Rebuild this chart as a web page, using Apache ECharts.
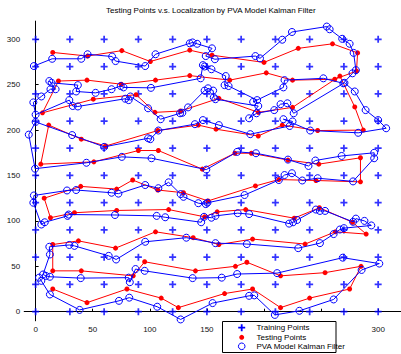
<!DOCTYPE html>
<html><head><meta charset="utf-8">
<script src="https://cdn.jsdelivr.net/npm/echarts@6/dist/echarts.min.js"></script>
<style>html,body{margin:0;padding:0;background:#fff}#c{width:401px;height:354px}</style>
</head><body><div id="c"></div>
<script>
const titleText = 'Testing Points v.s. Localization by PVA Model Kalman Filter';
const legendNames = ['Training Points', 'Testing Points', 'PVA Model Kalman Filter'];
const tickValues = [0, 50, 100, 150, 200, 250, 300];
const xLabelValues = [0, 50, 100, 150, 300];   // 200 and 250 are hidden behind the legend
const yLabelValues = [0, 50, 100, 150, 200, 250, 300];

const trainX = [0, 30, 60, 90, 120, 150, 180, 210, 240, 270, 300];
const trainY = [0, 30, 60, 90, 120, 150, 180, 210, 240, 270, 300];

const testX = [15,45,80,110,125,165.5,190,214.5,240,275,285,253.5,214.5,185,175,140,95.5,85.5,40,15,15,37.5,70,105,138,160.5,190,236,262.5,289.5,277.5,248.5,226.5,184,159,148,116.5,71,34,13,7.5,39.5,71,85,107,129.5,151,192.5,213,245.5,284.5,284.5,248,221,189,174.5,146,107.5,90,51,4.5,11.5,40,61.5,107,142.5,158,195,216,247,287,279.5,266.5,225,195,160.5,127,104.5,88,50.5,6,20,45,75,105,135,170,202,225,262,281,282,260,230,200,154.5,135,100.5,75.5,45.5,15];
const testY = [25,10,25,15,4.5,20,25,4.5,15,25,50,43,39.5,54.5,50,45,55,39.5,45,45,74,78,70,88,81.5,74,80,74.5,88,85.5,98.5,114.5,103,112.5,110,104.5,112.5,111.5,109,103.5,125,138,135,145,134,131,122,138.5,145.5,144.5,143,169.5,162.5,167,174.5,174.5,157,177.5,177.5,165,162.5,205.5,190,182.5,199.5,205.5,201,193.5,205.5,199.5,200,225.5,259.5,225,219.5,235,221,219.5,239,234,219,254,255,250.5,255,260,255,263,255,256,265,285,295,290,274.5,282.5,288,275.5,287.5,281.5,285.5];

const kalX = [3,5,12.5,38.5,73,82,106.5,127,155,187,191.5,209.5,231,261,285.5,301,269,211.5,176.5,163,137.5,95.5,87.5,82.5,81.5,39.5,12.5,9,6.5,12.5,12,29.5,34,64,70.5,96,132,157.5,185,230,249,261,266.5,270,294,288,280.5,278,253.5,249,245.5,229,225.5,222,187,177,157.5,154,147.5,145,113.5,106,69.5,29,28,8,5,-2,-1.5,27.5,35.5,66.5,72.5,96,107.5,116.5,127,129.5,142.5,149,150.5,183,213,218,224.5,233.5,247,278,296.5,296.5,268,245,239,221,193,176.5,149.5,101.5,75.5,44.5,-0.5,-6,0,32,60,98.5,100.5,107.5,139.5,146.5,160.5,188,222.5,225,217,240.5,282.5,307,300,289,279.5,270.5,226,220.5,214.5,209,193.5,187,195,157.5,156,155.5,151,148,133.5,128.5,126.5,109.5,98.5,83,81.5,78.5,37,32.5,29.5,0,-2,5,13,17.5,12,14,37,35.5,52.5,66.5,74.5,77,101,144.5,146.5,148,154,166.5,165.5,169,194,190.5,217,218,252,269.5,277.5,280.5,278.5,275,268.5,257.5,255,224.5,216,196.5,192.5,157,149,154.5,141.5,137.5,135,105,96,70,67,45.5,40,14.5,-1.5];
const kalY = [37.5,34,19,2,12,15.5,5.5,-8.5,9.5,17.5,18,-3.5,1,13.5,46,53,59.5,42.5,41.5,37.5,37,45,47,32.5,37.5,37,38.5,39.5,41,63,71.5,73.5,72.5,61.5,57.5,77,81.5,75.5,74.5,70,75.5,85.5,90.5,92,95,100,102.5,99,111,111,112.5,101,98.5,97,107.5,108.5,105.5,103.5,104.5,98.5,104,105.5,106.5,107,105.5,98.5,96,120,128,133.5,134,131,130,139.5,136,142.5,129.5,126.5,119.5,118.5,120,128.5,145,150.5,152.5,144.5,147,143.5,169,175,171.5,166.5,160.5,167.5,174.5,176,156.5,169,170.5,164,157.5,195,209,194.5,181.5,191,190,199.5,206.5,211,205.5,195.5,204.5,209.5,212,199.5,197,202,211,222,242.5,252,218.5,229.5,228.5,222,218.5,213,226.5,234,236,243.5,246,243.5,225,219,218.5,212,224,237,233,234.5,226,226.5,233,217,230.5,237,245,245,254,252,249.5,242.5,241,245,248.5,247,246.5,257,271.5,270,267,259.5,249.5,248.5,233,231,247,255,257,251.5,262.5,266,285,295,300.5,311,314,308,299.5,279,281.5,278,281.5,290,295,296.5,295.5,283.5,270.5,276,281,283.5,278.5,278.5,270.5];

const BLUE = '#0000ff', RED = '#ff0000', FONT = 'Liberation Sans, Arial, Helvetica, sans-serif';
const plusPath = 'path://M3,0H5V3H8V5H5V8H3V5H0V3H3Z';

const trainData = [];
trainY.forEach(y => trainX.forEach(x => trainData.push([x, y])));
const testData = testX.map((x, i) => [x, testY[i]]);
const kalData = kalX.map((x, i) => [x, kalY[i]]);

function makeAxis(labelValues, margin) {
  return {
    type: 'value', min: -10, max: 320,
    axisLine: {show: true, lineStyle: {color: '#000', width: 1}},
    axisTick: {show: true, inside: true, length: 3, customValues: tickValues, lineStyle: {color: '#000'}},
    axisLabel: {customValues: labelValues, fontSize: 8, color: '#111', fontFamily: FONT, margin: margin},
    splitLine: {show: false}
  };
}

// legend plus marker as polygon
const pc = [241.7, 327.7], ph = 3.5, pt = 0.9;
const plusPts = [[-pt,-ph],[pt,-ph],[pt,-pt],[ph,-pt],[ph,pt],[pt,pt],[pt,ph],[-pt,ph],[-pt,pt],[-ph,pt],[-ph,-pt],[-pt,-pt]].map(p => [pc[0]+p[0], pc[1]+p[1]]);

const chart = echarts.init(document.getElementById('c'), null, {renderer: 'svg'});
chart.setOption({
  animation: false,
  title: {text: titleText, left: 104, top: 4, padding: 2,
    textStyle: {fontFamily: FONT, fontSize: 8, fontWeight: 'normal', color: '#000'}},
  grid: {left: 24.2, top: 21.1, width: 380.9, height: 299.7, containLabel: false},
  xAxis: makeAxis(xLabelValues, 5),
  yAxis: makeAxis(yLabelValues, 4),
  series: [
    {name: legendNames[0], type: 'scatter', data: trainData, symbol: plusPath, symbolSize: 7,
      itemStyle: {color: BLUE}, z: 2},
    {name: legendNames[1], type: 'line', data: testData, symbol: 'circle', symbolSize: 5,
      itemStyle: {color: RED}, lineStyle: {color: RED, width: 1}, z: 3},
    {name: legendNames[2], type: 'line', data: kalData, symbol: 'circle', symbolSize: 7,
      itemStyle: {color: 'rgba(0,0,0,0)', borderColor: BLUE, borderWidth: 1},
      lineStyle: {color: BLUE, width: 1}, z: 4}
  ],
  graphic: [
    {type: 'rect', z: 100, shape: {x: 222.5, y: 321.5, width: 113.5, height: 31},
      style: {fill: '#fff', stroke: '#000', lineWidth: 1}},
    {type: 'polygon', z: 101, shape: {points: plusPts}, style: {fill: BLUE}},
    {type: 'circle', z: 101, shape: {cx: 241.7, cy: 337.3, r: 2.5}, style: {fill: RED}},
    {type: 'circle', z: 101, shape: {cx: 241.7, cy: 346.3, r: 3.3}, style: {fill: 'none', stroke: BLUE, lineWidth: 1}},
    {type: 'text', z: 101, x: 256.5, y: 327.7, style: {text: legendNames[0], font: '8px ' + FONT, fill: '#000', verticalAlign: 'middle'}},
    {type: 'text', z: 101, x: 256.5, y: 337.3, style: {text: legendNames[1], font: '8px ' + FONT, fill: '#000', verticalAlign: 'middle'}},
    {type: 'text', z: 101, x: 256.5, y: 346.3, style: {text: legendNames[2], font: '8px ' + FONT, fill: '#000', verticalAlign: 'middle'}}
  ]
});
</script></body></html>
